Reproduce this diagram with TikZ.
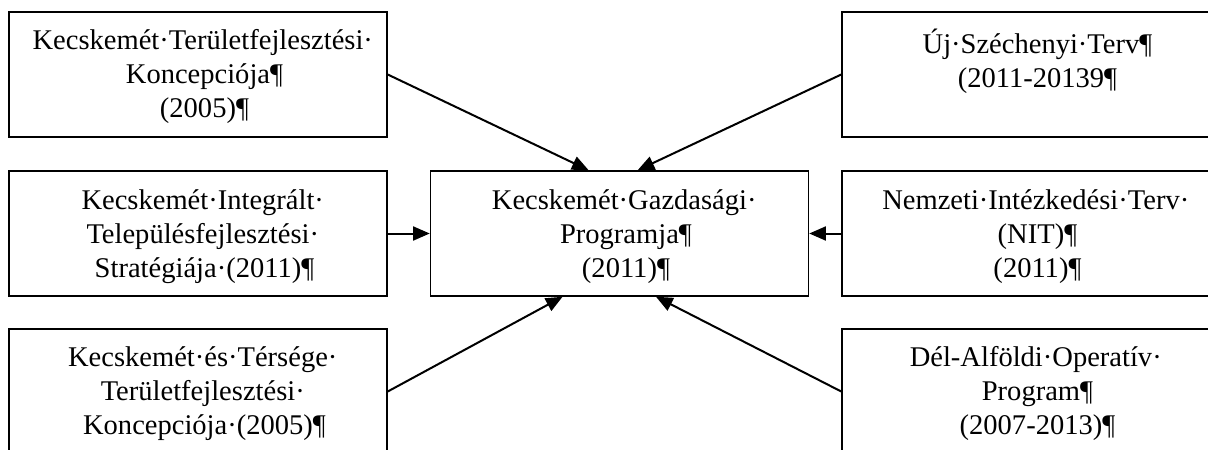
\documentclass[tikz,border=0pt]{standalone}
\usepackage{fontspec}
\setmainfont{Liberation Serif}
\usetikzlibrary{arrows.meta}

\newlength{\du}
\setlength{\du}{0.75pt}

\tikzset{
  doboz/.style={draw=black, line width=1.5\du, minimum width=378\du, minimum height=125\du, inner sep=0pt},
  szoveg/.style={anchor=north, inner sep=0pt, align=center, font=\fontsize{21.4pt}{25.5pt}\selectfont, execute at begin node=\strut},
  nyil/.style={line width=2\du, -{Triangle[length=12.5pt,width=10.5pt]}}
}
\newcommand{\vegjel}[1]{\rlap{#1}}

\begin{document}
\begin{tikzpicture}
\pgftransformxscale{1.000000}
\pgftransformyscale{-1.000000}
\useasboundingbox (0\du,0\du) rectangle (1208\du,450\du);
\clip (0\du,0\du) rectangle (1208\du,450\du);
% boxes
\node[doboz] (tl) at (198\du,74.5\du) {};
\node[doboz] (ml) at (198\du,233.5\du) {};
\node[doboz] (bl) at (198\du,391.5\du) {};
\node[doboz] (prog) at (619.5\du,233.5\du) {};
\node[doboz] (tr) at (1031\du,74.5\du) {};
\node[doboz] (mr) at (1031\du,233.5\du) {};
\node[doboz] (br) at (1031\du,391.5\du) {};
% setfont left to latex
\node[szoveg] (tl-t) at (198\du,29\du) {Kecskemét·Területfejlesztési\vegjel{·}\\Koncepciója\vegjel{¶}\\(2005)\vegjel{¶}};
\node[szoveg] (ml-t) at (198\du,189\du) {Kecskemét·Integrált\vegjel{·}\\Településfejlesztési\vegjel{·}\\Stratégiája·(2011)\vegjel{¶}};
\node[szoveg] (bl-t) at (198\du,346\du) {Kecskemét·és·Térsége\vegjel{·}\\Területfejlesztési\vegjel{·}\\Koncepciója·(2005)\vegjel{¶}};
\node[szoveg] (prog-t) at (619.5\du,189\du) {Kecskemét·Gazdasági\vegjel{·}\\Programja\vegjel{¶}\\(2011)\vegjel{¶}};
\node[szoveg] (tr-t) at (1031\du,29\du) {Új·Széchenyi·Terv\vegjel{¶}\\(2011-20139\vegjel{¶}};
\node[szoveg] (mr-t) at (1031\du,189\du) {Nemzeti·Intézkedési·Terv\vegjel{·}\\(NIT)\vegjel{¶}\\(2011)\vegjel{¶}};
\node[szoveg] (br-t) at (1031\du,346\du) {Dél-Alföldi·Operatív\vegjel{·}\\Program\vegjel{¶}\\(2007-2013)\vegjel{¶}};
% arrows
\draw[nyil] (tl.east) -- (prog.116);
\draw[nyil] (tr.west) -- (prog.74);
\draw[nyil] (ml.east) -- (prog.west);
\draw[nyil] (mr.west) -- (prog.east);
\draw[nyil] (bl.east) -- (prog.228);
\draw[nyil] (br.west) -- (prog.300);
\end{tikzpicture}
\end{document}
